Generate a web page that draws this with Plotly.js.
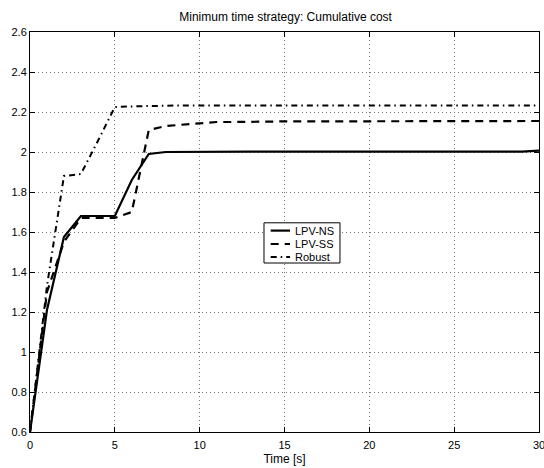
<!DOCTYPE html>
<html>
<head>
<meta charset="utf-8">
<script src="https://cdn.plot.ly/plotly-3.0.1.min.js"></script>
<style>html,body{margin:0;padding:0;background:#fff}#chart{width:544px;height:468px}</style>
</head>
<body>
<div id="chart"></div>
<script>
const time = [0,1,2,3,4,5,6,7,8,9,10,11,12,13,14,15,16,17,18,19,20,21,22,23,24,25,26,27,28,29,30];
const lpvNS = [0.6,1.21,1.575,1.68,1.68,1.68,1.86,1.99,2.0,2.001,2.002,2.002,2.002,2.002,2.002,2.002,2.002,2.002,2.002,2.002,2.002,2.002,2.002,2.002,2.002,2.002,2.002,2.002,2.002,2.002,2.007];
const lpvSS = [0.6,1.3,1.55,1.67,1.67,1.67,1.70,2.11,2.13,2.137,2.145,2.15,2.15,2.152,2.152,2.153,2.153,2.153,2.154,2.154,2.154,2.154,2.155,2.155,2.155,2.155,2.155,2.155,2.155,2.155,2.155];
const robust = [0.6,1.33,1.88,1.89,2.055,2.225,2.228,2.23,2.233,2.233,2.233,2.233,2.233,2.233,2.233,2.233,2.233,2.233,2.233,2.233,2.233,2.233,2.233,2.233,2.233,2.233,2.233,2.233,2.233,2.233,2.233];
const seriesNames = ['LPV-NS', 'LPV-SS', 'Robust'];
const xTicks = [0,5,10,15,20,25,30];
const yTicks = [0.6,0.8,1,1.2,1.4,1.6,1.8,2,2.2,2.4,2.6];
const yTickText = ['0.6','0.8','1','1.2','1.4','1.6','1.8','2','2.2','2.4','2.6'];

const lineStyles = [
  {color: '#000', width: 2.2, dash: 'solid'},
  {color: '#000', width: 2.2, dash: '8px,6px'},
  {color: '#000', width: 2, dash: '6px,4px,1.5px,4px'}
];
const ys = [lpvNS, lpvSS, robust];

const traces = ys.map((y, i) => ({x: time, y: y, name: seriesNames[i], mode: 'lines', line: lineStyles[i], showlegend: false}));

const fontFam = 'Liberation Sans, Arial, sans-serif';
const axisCommon = {
  showline: true, linecolor: '#000', linewidth: 1, mirror: 'ticks',
  ticks: 'inside', ticklen: 5, tickcolor: '#000', tickwidth: 1,
  showgrid: true, gridcolor: '#777', griddash: '1px,3px', gridwidth: 1,
  zeroline: false, ticklabeloverflow: 'allow',
  tickfont: {family: fontFam, size: 11, color: '#000'}
};

// custom legend (compact, MATLAB-like)
const lgX0 = 0.4597, lgX1 = 0.609, lgY0 = 0.4225, lgY1 = 0.523;
const rowY = [0.5035, 0.47, 0.4375];
const shapes = [{type: 'rect', xref: 'paper', yref: 'paper', x0: lgX0, x1: lgX1, y0: lgY0, y1: lgY1,
  line: {color: '#000', width: 1}, fillcolor: '#fff', layer: 'above'}];
const annotations = [];
seriesNames.forEach((n, i) => {
  shapes.push({type: 'line', xref: 'paper', yref: 'paper', x0: 0.4729, x1: 0.5108, y0: rowY[i], y1: rowY[i],
    line: {color: '#000', width: lineStyles[i].width, dash: lineStyles[i].dash}, layer: 'above'});
  annotations.push({xref: 'paper', yref: 'paper', x: 0.5167, y: rowY[i], xanchor: 'left', yanchor: 'middle',
    text: n, showarrow: false, font: {family: fontFam, size: 11, color: '#000'}});
});

const layout = {
  width: 544, height: 468,
  margin: {l: 30, r: 5, t: 32, b: 36},
  paper_bgcolor: '#fff', plot_bgcolor: '#fff',
  font: {family: fontFam, color: '#000'},
  title: {text: 'Minimum time strategy: Cumulative cost', font: {size: 12, color: '#000'}, x: 0.525, xanchor: 'center', y: 0.965, yanchor: 'middle'},
  xaxis: Object.assign({}, axisCommon, {
    range: [0, 30], tickvals: xTicks, ticktext: xTicks.map(String), ticklabelstandoff: 3,
    title: {text: 'Time [s]', font: {size: 12, color: '#000'}, standoff: 4}
  }),
  yaxis: Object.assign({}, axisCommon, {
    range: [0.6, 2.6], tickvals: yTicks, ticktext: yTickText
  }),
  showlegend: false,
  shapes: shapes,
  annotations: annotations
};

Plotly.newPlot('chart', traces, layout, {displayModeBar: false, staticPlot: true});
</script>
</body>
</html>
